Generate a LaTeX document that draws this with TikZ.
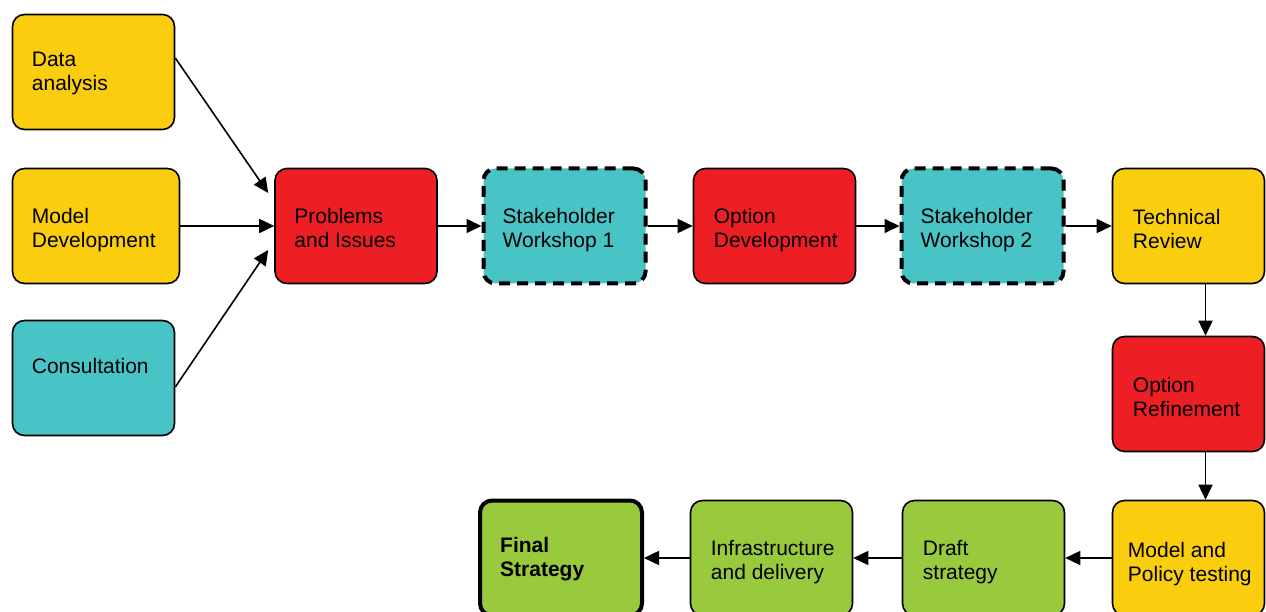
\documentclass[tikz,border=0pt]{standalone}
\usepackage{fontspec}
\setmainfont{Liberation Sans}
\usetikzlibrary{arrows.meta}
\definecolor{jaune}{RGB}{250,205,15}
\definecolor{rouge}{RGB}{237,30,36}
\definecolor{turquoise}{RGB}{72,195,198}
\definecolor{vert}{RGB}{153,201,60}
\begin{document}
\begin{tikzpicture}[
    x=1pt, y=-1pt,  % unités en pixels, y vers le bas
    % Réglages des boîtes
    boite/.style={draw, rounded corners=12pt, line width=1.6pt,
        minimum width=162pt, minimum height=115pt, inner sep=0pt},
    atelier/.style={boite, fill=turquoise, line width=4pt,
        dash pattern=on 11pt off 7pt},
    finale/.style={boite, fill=vert, line width=4pt},
    texte/.style={anchor=north west, inner sep=0pt, align=left,
        font=\fontsize{21}{24}\selectfont},
    fleche/.style={-{Triangle[length=15pt,width=14pt]}, line width=1.6pt} % flèche pleine
]
\useasboundingbox (0,0) rectangle (1266,612);
\clip (0,0) rectangle (1266,612);
% Colonne de gauche
\node[boite, fill=jaune] (data) at (93.5,72) {};
\node[boite, fill=jaune, minimum width=167pt] (modeldev) at (96,226) {};
\node[boite, fill=turquoise] (consult) at (93.5,378) {};
% Ligne du haut
\node[boite, fill=rouge] (problems) at (356,226) {};
\node[atelier] (sw1) at (564.5,226) {};
\node[boite, fill=rouge] (optdev) at (774.5,226) {};
\node[atelier] (sw2) at (982.5,226) {};
\node[boite, fill=jaune, minimum width=152pt] (techrev) at (1188.5,226) {};
% Colonne de droite et ligne du bas
\node[boite, fill=rouge, minimum width=152pt] (optref) at (1188.5,394) {};
\node[boite, fill=jaune, minimum width=152pt] (modpol) at (1188.5,558) {};
\node[boite, fill=vert] (draft) at (983.5,558) {};
\node[boite, fill=vert] (infra) at (771.5,558) {};
\node[finale] (final) at (561,558) {};
% Textes
\node[texte] (data-t) at ([shift={(20pt,-38pt)}]data.north west) {Data\\analysis};
\node[texte] (modeldev-t) at ([shift={(20pt,-40pt)}]modeldev.north west) {Model\\Development};
\node[texte] (consult-t) at ([shift={(20pt,-38pt)}]consult.north west) {Consultation};
\node[texte] (problems-t) at ([shift={(20pt,-40pt)}]problems.north west) {Problems\\and Issues};
\node[texte] (sw1-t) at ([shift={(21pt,-42pt)}]sw1.north west) {Stakeholder\\Workshop 1};
\node[texte] (optdev-t) at ([shift={(21pt,-40pt)}]optdev.north west) {Option\\Development};
\node[texte] (sw2-t) at ([shift={(21pt,-42pt)}]sw2.north west) {Stakeholder\\Workshop 2};
\node[texte] (techrev-t) at ([shift={(21pt,-41pt)}]techrev.north west) {Technical\\Review};
\node[texte] (optref-t) at ([shift={(21pt,-41pt)}]optref.north west) {Option\\Refinement};
\node[texte] (modpol-t) at ([shift={(16pt,-42pt)}]modpol.north west) {Model and\\Policy testing};
\node[texte] (draft-t) at ([shift={(21pt,-40pt)}]draft.north west) {Draft\\strategy};
\node[texte] (infra-t) at ([shift={(21pt,-40pt)}]infra.north west) {Infrastructure\\and delivery};
\node[texte, font=\fontsize{21}{24}\selectfont\bfseries] (final-t)
    at ([shift={(22pt,-39pt)}]final.north west) {Final\\Strategy};
% Flèches
\draw[fleche] ([yshift=14pt]data.east) -- ([shift={(-6pt,33pt)}]problems.west);
\draw[fleche] (modeldev.east) -- (problems.west);
\draw[fleche] ([yshift=-9pt]consult.east) -- ([shift={(-6pt,-24pt)}]problems.west);
\draw[fleche] (problems.east) -- (sw1.west);
\draw[fleche] (sw1.east) -- (optdev.west);
\draw[fleche] (optdev.east) -- (sw2.west);
\draw[fleche] (sw2.east) -- (techrev.west);
\draw[fleche] ([xshift=17pt]techrev.south) -- ([xshift=17pt]optref.north);
\draw[fleche] ([xshift=17pt]optref.south) -- ([xshift=17pt]modpol.north);
\draw[fleche] (modpol.west) -- (draft.east);
\draw[fleche] (draft.west) -- (infra.east);
\draw[fleche] (infra.west) -- (final.east);
\end{tikzpicture}
\end{document}
